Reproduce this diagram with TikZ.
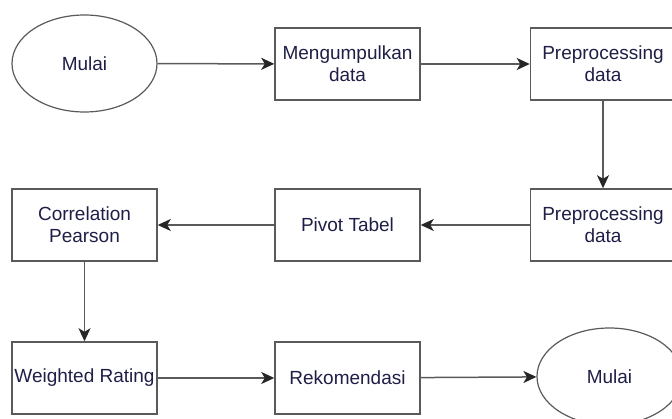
\documentclass[tikz,border=0pt]{standalone}
\usepackage{fontspec}
\setmainfont{Liberation Sans}
\usepackage{tikz}
\usetikzlibrary{arrows.meta,shapes.geometric}
\definecolor{linegray}{RGB}{90,90,90}
\definecolor{textblue}{RGB}{30,30,70}
\tikzset{flowbox/.style={draw=linegray, line width=1.5pt, rectangle, minimum width=145pt,
            minimum height=72pt, inner sep=0pt, align=center, text=textblue,
            font=\fontsize{19}{22}\selectfont},
         flowend/.style={flowbox, ellipse, line width=1.2pt, minimum height=97pt},
         flowarrow/.style={draw=linegray, line width=1.5pt,
            -{Stealth[length=13pt,width=12pt,inset=3.5pt,color=black!85]}}
}

\begin{document}
\begin{tikzpicture}[x=1pt,y=-1pt]
\useasboundingbox (0,0) rectangle (672,419);
\clip (0,0) rectangle (672,419);
% top row
\node[flowend] (start) at (84.5,63.5) {Mulai};
\node[flowbox] (collect) at (347.5,64) {Mengumpulkan\\data};
\node[flowbox] (prep1) at (603,64) {Preprocessing\\data};
% middle row
\node[flowbox] (prep2) at (603,225) {Preprocessing\\data};
\node[flowbox] (pivot) at (347.5,225) {Pivot Tabel};
\node[flowbox] (corr) at (84.5,225) {Correlation\\Pearson};
% bottom row
\node[flowbox] (wrating) at (84.5,378) {Weighted Rating};
\node[flowbox] (recom) at (347.5,378) {Rekomendasi};
\node[flowend] (finish) at (609.5,376.5) {Mulai};
% connectors
\draw[flowarrow] (start) -- (collect);
\draw[flowarrow] (collect) -- (prep1);
\draw[flowarrow] (prep1) -- (prep2);
\draw[flowarrow] (prep2) -- (pivot);
\draw[flowarrow] (pivot) -- (corr);
\draw[flowarrow] (corr) -- (wrating);
\draw[flowarrow] (wrating) -- (recom);
\draw[flowarrow] (recom) -- (finish);
\end{tikzpicture}
\end{document}
